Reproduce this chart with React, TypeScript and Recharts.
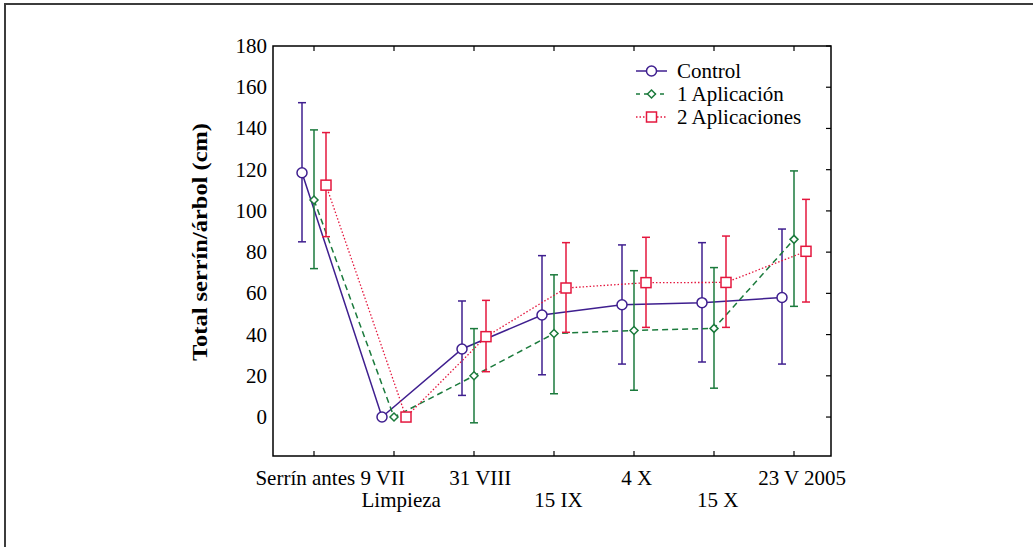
import { LineChart, Line, XAxis, YAxis, ErrorBar, Legend, ReferenceArea } from 'recharts';

const categories = ['Serrín antes 9 VII', 'Limpieza', '31 VIII', '15 IX', '4 X', '15 X', '23 V 2005'];
const yTicks = [0, 20, 40, 60, 80, 100, 120, 140, 160, 180];

const controlMean = [118.5, 0, 33, 49.5, 54.5, 55.5, 58];
const controlLow = [85, 0, 10.5, 20.5, 25.7, 26.7, 25.7];
const controlHigh = [152.5, 0, 56.3, 78.3, 83.5, 84.6, 91.2];

const aplic1Mean = [105.3, 0, 20, 40.5, 42, 43, 86.2];
const aplic1Low = [72, 0, -2.8, 11.3, 13, 14, 53.7];
const aplic1High = [139.3, 0, 42.9, 69, 71, 72.5, 119.4];

const aplic2Mean = [112.5, 0, 39, 62.6, 65.2, 65.3, 80.4];
const aplic2Low = [87.5, 0, 22, 41.1, 43.5, 43.5, 55.8];
const aplic2High = [138, 0, 56.6, 84.6, 87.2, 87.8, 105.6];

const PURPLE = '#3f1f8f';
const GREEN = '#1b7a3c';
const RED = '#e4173e';
const FONT = '"Liberation Serif", "Times New Roman", serif';

const X_MIN = -0.5125;
const X_MAX = 6.4625;
const Y_MIN = -18.9;
const Y_MAX = 180;
const PLOT_W = 558;
const PLOT_H = 410;

const build = (mean: number[], low: number[], high: number[], shift: number) =>
  mean.map((m, i) => ({ x: i + shift, y: m, err: [m - low[i], high[i] - m] }));

const controlData = build(controlMean, controlLow, controlHigh, -0.15);
const aplic1Data = build(aplic1Mean, aplic1Low, aplic1High, 0);
const aplic2Data = build(aplic2Mean, aplic2Low, aplic2High, 0.15);

const CircleDot = (p: any) => (
  <circle key={p.index} cx={p.cx} cy={p.cy} r={5} fill="#fff" stroke={PURPLE} strokeWidth={1.5} />
);
const DiamondDot = (p: any) => (
  <path key={p.index} d={`M${p.cx},${p.cy - 4}L${p.cx + 4},${p.cy}L${p.cx},${p.cy + 4}L${p.cx - 4},${p.cy}Z`}
    fill="#fff" stroke={GREEN} strokeWidth={1.5} />
);
const SquareDot = (p: any) => (
  <rect key={p.index} x={p.cx - 5} y={p.cy - 5} width={10} height={10} fill="#fff" stroke={RED} strokeWidth={1.5} />
);

const XTick = ({ x, y, payload }: any) => {
  const i = Math.round(payload.value);
  const lower = i % 2 === 1;
  const label = categories[i];
  // the original labels sit a little right of their tick, more so for long ones
  const shift = label.length * 0.9;
  return (
    <g>
      <line x1={x} y1={y} x2={x} y2={y - 5} stroke="#000" strokeWidth={1.2} />
      <line x1={x} y1={y - PLOT_H} x2={x} y2={y - PLOT_H + 5} stroke="#000" strokeWidth={1.2} />
      <text x={x + shift} y={y + (lower ? 51 : 29)} textAnchor="middle" fontFamily={FONT}
        style={{ fontFamily: FONT }} fontSize={21} fill="#000">
        {label}
      </text>
    </g>
  );
};

const YTick = ({ x, y, payload }: any) => (
  <g>
    <line x1={x + PLOT_W} y1={y} x2={x + PLOT_W - 5} y2={y} stroke="#000" strokeWidth={1.2} />
    <text x={x - 6} y={y + 7} textAnchor="end" fontFamily={FONT} style={{ fontFamily: FONT }}
      fontSize={21} fill="#000">
      {payload.value}
    </text>
  </g>
);

const legendItems = [
  { name: 'Control', color: PURPLE, dash: undefined, marker: 'circle' },
  { name: '1 Aplicación', color: GREEN, dash: '4 4', marker: 'diamond' },
  { name: '2 Aplicaciones', color: RED, dash: '1.5 2', marker: 'square' },
];

const LegendContent = () => (
  <svg width={200} height={72}>
    {legendItems.map((item, i) => {
      const cy = 11 + i * 23;
      return (
        <g key={item.name}>
          <line x1={0} y1={cy} x2={31} y2={cy} stroke={item.color} strokeWidth={1.5} strokeDasharray={item.dash} />
          {item.marker === 'circle' && <CircleDot cx={15.5} cy={cy} />}
          {item.marker === 'diamond' && <DiamondDot cx={15.5} cy={cy} />}
          {item.marker === 'square' && <SquareDot cx={15.5} cy={cy} />}
          <text x={41} y={cy + 7} fontFamily={FONT} style={{ fontFamily: FONT }} fontSize={21} fill="#000">
            {item.name}
          </text>
        </g>
      );
    })}
  </svg>
);

export default function App() {
  return (
    <div style={{ position: 'fixed', left: 0, top: 0, width: 1033, height: 547, background: '#fff',
      overflow: 'hidden', fontFamily: FONT }}>
      <div style={{ position: 'absolute', left: 4, top: 3, width: 1027, height: 560, border: '2px solid #3c3c3c' }} />
      <div style={{ position: 'absolute', left: 0, top: 0 }}>
        <LineChart width={1033} height={547} margin={{ top: 46, right: 202, bottom: 51, left: 213 }}>
          <XAxis dataKey="x" type="number" domain={[X_MIN, X_MAX]} ticks={[0, 1, 2, 3, 4, 5, 6]}
            allowDataOverflow axisLine={false} tickLine={false} tickSize={0} tickMargin={0} height={40}
            tick={<XTick />} interval={0} />
          <YAxis type="number" domain={[Y_MIN, Y_MAX]} ticks={yTicks} allowDataOverflow axisLine={false}
            tickLine={false} tickSize={0} tickMargin={0} width={60} tick={<YTick />} interval={0} />
          <ReferenceArea x1={X_MIN} x2={X_MAX} y1={Y_MIN} y2={Y_MAX} fill="none" fillOpacity={0}
            stroke="#000" strokeWidth={1.5} ifOverflow="visible" />
          <Legend layout="vertical" align="center" verticalAlign="middle" content={<LegendContent />}
            wrapperStyle={{ left: 636, top: 60, width: 200, height: 72 }} />
          <Line data={controlData} dataKey="y" name="Control" stroke={PURPLE} strokeWidth={1.5}
            dot={<CircleDot />} isAnimationActive={false}>
            <ErrorBar dataKey="err" direction="y" width={4} stroke={PURPLE} strokeWidth={1.5} />
          </Line>
          <Line data={aplic1Data} dataKey="y" name="1 Aplicación" stroke={GREEN} strokeWidth={1.5}
            strokeDasharray="6 4" dot={<DiamondDot />} isAnimationActive={false}>
            <ErrorBar dataKey="err" direction="y" width={4} stroke={GREEN} strokeWidth={1.5} />
          </Line>
          <Line data={aplic2Data} dataKey="y" name="2 Aplicaciones" stroke={RED} strokeWidth={1.3}
            strokeDasharray="1.5 2" dot={<SquareDot />} isAnimationActive={false}>
            <ErrorBar dataKey="err" direction="y" width={4} stroke={RED} strokeWidth={1.5} />
          </Line>
          <text x={207} y={242} transform="rotate(-90, 207, 242)" textAnchor="middle" fontFamily={FONT}
            style={{ fontFamily: FONT }} fontSize={20} fontWeight="bold" fill="#000"
            textLength={238} lengthAdjust="spacingAndGlyphs">
            Total serrín/árbol (cm)
          </text>
        </LineChart>
      </div>
    </div>
  );
}
